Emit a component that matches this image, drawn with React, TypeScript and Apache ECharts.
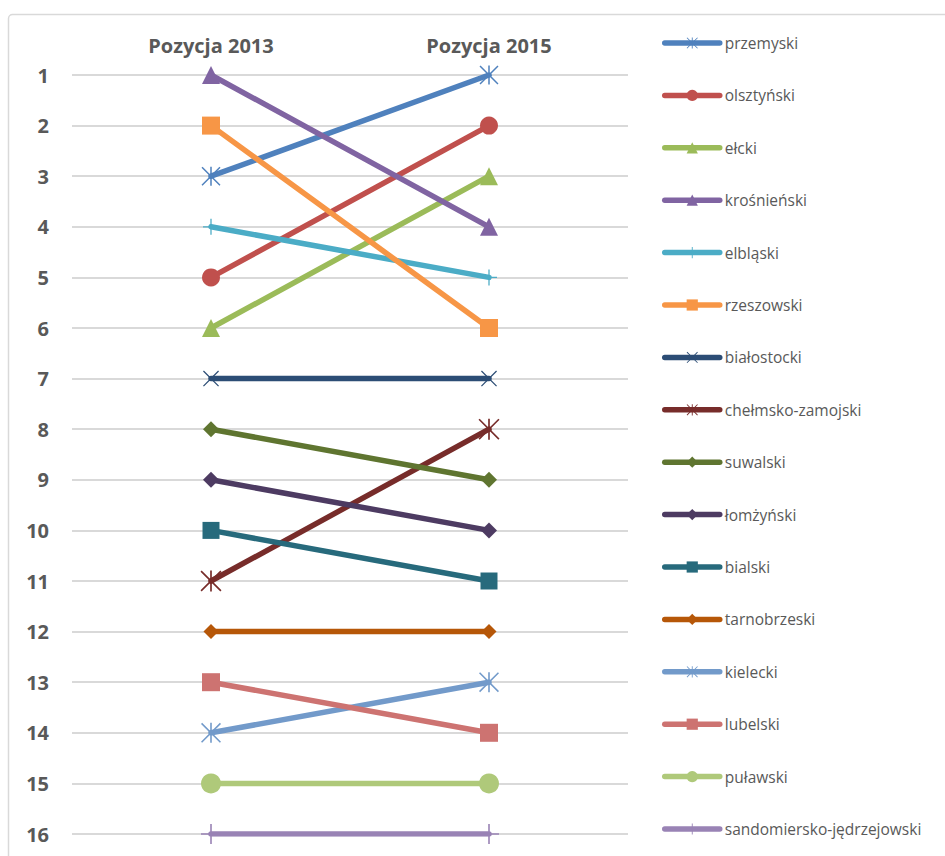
import React, { useEffect, useRef } from "react";
import * as echarts from "echarts";

const categories = ["Pozycja 2013", "Pozycja 2015"];
const seriesNames = [
  "przemyski",
  "olsztyński",
  "ełcki",
  "krośnieński",
  "elbląski",
  "rzeszowski",
  "białostocki",
  "chełmsko-zamojski",
  "suwalski",
  "łomżyński",
  "bialski",
  "tarnobrzeski",
  "kielecki",
  "lubelski",
  "puławski",
  "sandomiersko-jędrzejowski",
];
const pos2013 = [3, 5, 6, 1, 4, 2, 7, 11, 8, 9, 10, 12, 14, 13, 15, 16];
const pos2015 = [1, 2, 3, 4, 5, 6, 7, 8, 9, 10, 11, 12, 13, 14, 15, 16];
const yMin = 1;
const yMax = 16;

const seriesColors = [
  "#4F81BD", "#C0504D", "#9BBB59", "#8064A2", "#4BACC6", "#F79646",
  "#2C4D75", "#772C2A", "#5F7530", "#4D3B62", "#276A7C", "#B65708",
  "#729ACA", "#CD7371", "#AFC97A", "#9983B5",
];

const STAR =
  "path://M9.2,0L10.8,0L10.8,20L9.2,20Z M0,1.1L1.1,0L20,18.9L18.9,20Z M20,1.1L1.1,20L0,18.9L18.9,0Z";
const XMARK =
  "path://M0,1.1L1.1,0L20,18.9L18.9,20Z M20,1.1L1.1,20L0,18.9L18.9,0Z";
const PLUS = "path://M9.2,0L10.8,0L10.8,20L9.2,20Z M0,9.2L20,9.2L20,10.8L0,10.8Z";

const seriesSymbols = [
  STAR, "circle", "triangle", "triangle", PLUS, "rect",
  XMARK, STAR, "diamond", "diamond", "rect", "diamond",
  STAR, "rect", "circle", PLUS,
];
const symbolSizes = [19, 18, 18, 18, 16, 18, 16, 21, 16, 16, 17, 15, 20, 18, 20, 20];

export default function App() {
  const ref = useRef<HTMLDivElement>(null);
  useEffect(() => {
    if (!ref.current) return;
    const chart = echarts.init(ref.current, null, { renderer: "svg" });
    const font = "'Open Sans', 'Noto Sans', sans-serif";
    chart.setOption({
      animation: false,
      backgroundColor: "#ffffff",
      textStyle: { fontFamily: font },
      graphic: [
        {
          type: "rect",
          shape: { x: 8.5, y: 14.5, width: 1000, height: 1000, r: 4 },
          style: { fill: "none", stroke: "#d9d9d9", lineWidth: 1.5 },
          silent: true,
        },
      ],
      grid: { left: 72, right: 317, top: 75, bottom: 22, containLabel: false },
      legend: {
        orient: "vertical",
        left: 662,
        top: 35,
        padding: 0,
        itemWidth: 55,
        itemHeight: 14,
        itemGap: 36.4,
        data: seriesNames,
        lineStyle: { width: 5.5, cap: "round" },
        textStyle: {
          color: "#595959",
          fontSize: 15.5,
          fontFamily: font,
        },
      },
      xAxis: {
        type: "category",
        data: categories,
        position: "top",
        boundaryGap: true,
        axisLine: { show: false },
        axisTick: { show: false },
        axisLabel: {
          margin: 20,
          color: "#595959",
          fontSize: 20,
          fontWeight: "bold",
          fontFamily: font,
        },
      },
      yAxis: {
        type: "value",
        min: yMin,
        max: yMax,
        interval: 1,
        inverse: true,
        axisLine: { show: false },
        axisTick: { show: false },
        splitLine: { lineStyle: { color: "#d9d9d9", width: 2 } },
        axisLabel: {
          margin: 23,
          color: "#595959",
          fontSize: 20,
          fontWeight: "bold",
          fontFamily: font,
        },
      },
      series: seriesNames.map((name, i) => ({
        name,
        type: "line",
        data: [pos2013[i], pos2015[i]],
        symbol: seriesSymbols[i],
        symbolSize: symbolSizes[i],
        showSymbol: true,
        color: seriesColors[i],
        lineStyle: { color: seriesColors[i], width: 5.5, cap: "round" },
        itemStyle: { color: seriesColors[i], borderWidth: 0 },
        emphasis: { disabled: true },
      })),
    });
    return () => chart.dispose();
  }, []);
  return (
    <div
      ref={ref}
      style={{ position: "fixed", left: 0, top: 0, width: 945, height: 856 }}
    />
  );
}
